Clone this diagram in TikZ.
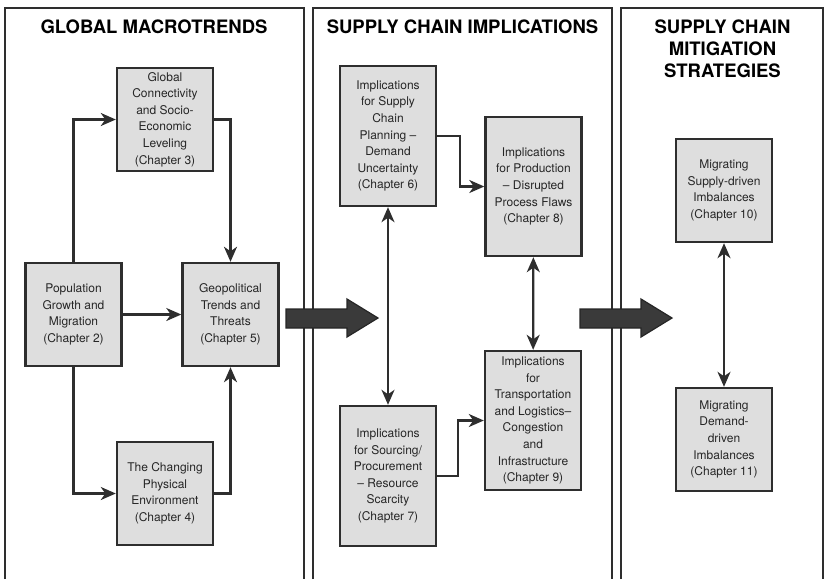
\documentclass[tikz,border=0pt]{standalone}
\usepackage{fontspec}
\setmainfont{TeX Gyre Heros}
\usetikzlibrary{arrows.meta}
\definecolor{boxgray}{HTML}{DEDEDE}
\definecolor{linegray}{HTML}{2E2E2E}
\definecolor{bigarrow}{HTML}{3A3A3A}

\begin{document}
\begin{tikzpicture}[x=1pt,y=-1pt,
    box/.style={draw=linegray,line width=2.4pt,fill=boxgray,minimum width=96pt,
      align=center,inner sep=0pt,text=black!85,
      font=\fontsize{12}{16.6}\selectfont},
    arr/.style={draw=linegray,line width=2.2pt,
      -{Stealth[length=15pt,width=13pt,inset=4.5pt]}},
    darr/.style={arr,{Stealth[length=15pt,width=13pt,inset=4.5pt]}-{Stealth[length=15pt,width=13pt,inset=4.5pt]}},
    panel/.style={draw=linegray,line width=1.9pt},
    title/.style={font=\fontsize{18.5}{22}\selectfont\bfseries,align=center,inner sep=0pt}]
  \useasboundingbox (0,0) rectangle (826,579);
  % the three columns, open at the bottom
  \foreach \xa/\xb in {5/304,313/612,621/823}{%
    \draw[panel] (\xa,579) -- (\xa,8) -- (\xb,8) -- (\xb,579);
  }
  \node[title,anchor=base] (t1) at (154,33) {GLOBAL MACROTRENDS};
  \node[title,anchor=base] (t2) at (462.5,33) {SUPPLY CHAIN IMPLICATIONS};
  \node[title,anchor=north] (t3) at (722.5,19.5) {SUPPLY CHAIN\\MITIGATION\\STRATEGIES};
  % big arrows between the columns
  \foreach \dx in {286,580}{%
    \begin{scope}[shift={(\dx,0)}]
      \draw[line width=1.2pt,draw=black!85,fill=bigarrow]
        (0,309) -- (61,309) -- (61,299) -- (92,318) -- (61,337) -- (61,328) -- (0,328) -- cycle;
    \end{scope}
  }
  % macrotrends
  \node[box,minimum height=103pt] (c3) at (165,119.5) {Global\\Connectivity\\and Socio-\\Economic\\Leveling\\(Chapter 3)};
  \node[box,minimum height=103pt] (c2) at (73.5,314.5) {Population\\Growth and\\Migration\\(Chapter 2)};
  \node[box,minimum height=103pt] (c5) at (230.5,314.5) {Geopolitical\\Trends and\\Threats\\(Chapter 5)};
  \node[box,minimum height=103pt] (c4) at (165,493.5) {The Changing\\Physical\\Environment\\(Chapter 4)};
  % implications
  \node[box,minimum height=140pt] (c6) at (388,136) {Implications\\for Supply\\Chain\\Planning --\\Demand\\Uncertainty\\(Chapter 6)};
  \node[box,minimum height=139pt] (c8) at (533.5,186.5) {Implications\\for Production\\-- Disrupted\\Process Flaws\\(Chapter 8)};
  \node[box,minimum height=139pt] (c9) at (533,420.5) {Implications\\for\\Transportation\\and Logistics--\\Congestion\\and\\Infrastructure\\(Chapter 9)};
  \node[box,minimum height=140pt] (c7) at (388,476) {Implications\\for Sourcing/\\Procurement\\-- Resource\\Scarcity\\(Chapter 7)};
  % mitigation
  \node[box,minimum height=103pt] (c10) at (724,190.5) {Migrating\\Supply-driven\\Imbalances\\(Chapter 10)};
  \node[box,minimum height=103pt] (c11) at (724,439.5) {Migrating\\Demand-\\driven\\Imbalances\\(Chapter 11)};
  % links
  \draw[arr] (c2.north) |- (c3.west);
  \draw[arr] (c2.south) |- (c4.west);
  \draw[arr] (c2) -- (c5);
  \draw[arr] (c3.east) -| (c5.north);
  \draw[arr] (c4.east) -| (c5.south);
  \draw[darr] (c6) -- (c7);
  \draw[arr] (c6.east) -- ++(23,0) |- (c8.west);
  \draw[darr] (c8) -- (c9);
  \draw[arr] (c7.east) -- ++(21,0) |- (c9.west);
  \draw[darr] (c10) -- (c11);
\end{tikzpicture}
\end{document}
